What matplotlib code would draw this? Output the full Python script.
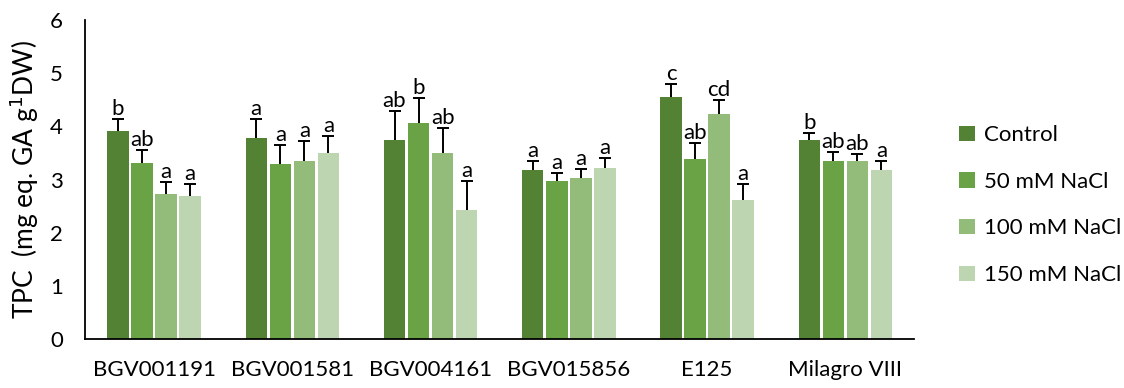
import numpy as np
import matplotlib
matplotlib.use("Agg")
import matplotlib.pyplot as plt

plt.rcParams['font.family'] = ['Lato', 'DejaVu Sans']

genotypes = ["BGV001191", "BGV001581", "BGV004161", "BGV015856", "E125", "Milagro VIII"]
treatments = ["Control", "50 mM NaCl", "100 mM NaCl", "150 mM NaCl"]
colors = ["#548235", "#6AA345", "#93BC7B", "#BED5B2"]

control = [3.91, 3.78, 3.74, 3.18, 4.56, 3.74]
nacl50 = [3.32, 3.29, 4.06, 2.97, 3.38, 3.35]
nacl100 = [2.73, 3.35, 3.50, 3.03, 4.24, 3.35]
nacl150 = [2.69, 3.50, 2.43, 3.21, 2.62, 3.18]

err_control = [0.23, 0.36, 0.55, 0.17, 0.24, 0.14]
err_50 = [0.24, 0.36, 0.47, 0.16, 0.31, 0.17]
err_100 = [0.22, 0.38, 0.48, 0.17, 0.25, 0.13]
err_150 = [0.22, 0.33, 0.55, 0.20, 0.30, 0.17]

letters_control = ["b", "a", "ab", "a", "c", "b"]
letters_50 = ["ab", "a", "b", "a", "ab", "ab"]
letters_100 = ["a", "a", "ab", "a", "cd", "ab"]
letters_150 = ["a", "a", "a", "a", "a", "a"]

values = [control, nacl50, nacl100, nacl150]
errors = [err_control, err_50, err_100, err_150]
letters = [letters_control, letters_50, letters_100, letters_150]

fig = plt.figure(figsize=(11.24, 3.88), dpi=100)
ax = fig.add_axes([0.0756, 0.126, 0.738, 0.822])

x = np.arange(len(genotypes))
pitch = 0.174
width = 0.155
for i in range(4):
    pos = x + (i - 1.5) * pitch
    v = np.array(values[i])
    e = np.array(errors[i])
    ax.bar(pos, v, width, color=colors[i], label=treatments[i], zorder=2)
    eb = ax.errorbar(pos, v, yerr=[np.zeros_like(e), e], fmt="none", ecolor="black",
                     elinewidth=1.4, capsize=4, capthick=1.4, zorder=3)
    eb[1][0].set_visible(False)  # only keep the top cap
    for p, top, lab in zip(pos, v + e, letters[i]):
        ax.annotate(lab, (p, top), xytext=(0, 0), textcoords="offset points",
                    ha="center", va="bottom", fontsize=16)

ax.set_xlim(-0.5, 5.5)
ax.set_ylim(0, 6)
ax.set_yticks(range(7))
ax.set_xticks(x)
ax.set_xticklabels(genotypes)
ax.tick_params(length=0, labelsize=16)
ax.tick_params(axis="x", pad=15)
ax.tick_params(axis="y", pad=16)
ax.spines["top"].set_visible(False)
ax.spines["right"].set_visible(False)
ax.spines["left"].set_linewidth(1.3)
ax.spines["bottom"].set_linewidth(1.3)
ax.set_ylabel("TPC  (mg eq. GA g$^{1}$DW)", fontsize=19, labelpad=6)

ax.legend(loc="center left", bbox_to_anchor=(1.03, 0.42), frameon=False,
          fontsize=16, handlelength=0.7, handleheight=0.7, labelspacing=1.2,
          handletextpad=0.4)

fig.savefig("out.png", dpi=100)
